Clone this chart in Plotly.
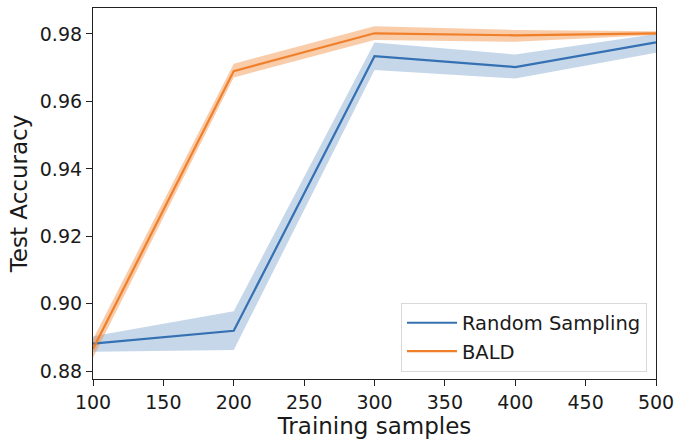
import plotly.graph_objects as go

samples = [100, 200, 300, 400, 500]

random_mean = [0.8882, 0.8920, 0.9734, 0.9702, 0.9775]
random_low = [0.8858, 0.8863, 0.9693, 0.9668, 0.9744]
random_high = [0.8904, 0.8978, 0.9775, 0.9739, 0.9800]

bald_mean = [0.8866, 0.9690, 0.9802, 0.9796, 0.9802]
bald_low = [0.8840, 0.9671, 0.9782, 0.9777, 0.9797]
bald_high = [0.8895, 0.9712, 0.9823, 0.9812, 0.9808]

x_ticks = [100, 150, 200, 250, 300, 350, 400, 450, 500]
y_ticks = [0.88, 0.90, 0.92, 0.94, 0.96, 0.98]

BLUE = "#3470b2"
ORANGE = "#f07f2a"

fig = go.Figure()

def band(x, lo, hi, color):
    fig.add_trace(go.Scatter(
        x=list(x) + list(x)[::-1],
        y=list(hi) + list(lo)[::-1],
        fill="toself", fillcolor=color, line=dict(width=0),
        mode="lines", showlegend=False, hoverinfo="skip"))

band(samples, random_low, random_high, "rgba(52,112,178,0.28)")
band(samples, bald_low, bald_high, "rgba(240,127,42,0.40)")

fig.add_trace(go.Scatter(x=samples, y=random_mean, mode="lines",
                         name="Random Sampling", line=dict(color=BLUE, width=2.2)))
fig.add_trace(go.Scatter(x=samples, y=bald_mean, mode="lines",
                         name="BALD", line=dict(color=ORANGE, width=2.2)))

axis_common = dict(
    showline=True, linecolor="#222222", linewidth=1.2, mirror=True,
    ticks="outside", ticklen=6, tickwidth=1.2, tickcolor="#222222",
    showgrid=False, zeroline=False,
    tickfont=dict(family="DejaVu Sans", size=19, color="#1a1a1a"),
)

fig.update_layout(
    width=681, height=440,
    margin=dict(l=93, r=21, t=7, b=59),
    paper_bgcolor="white", plot_bgcolor="white",
    font=dict(family="DejaVu Sans", color="#1a1a1a"),
    xaxis=dict(range=[100, 500], tickvals=x_ticks,
               title=dict(text="Training samples", font=dict(size=23), standoff=4),
               **axis_common),
    yaxis=dict(range=[0.8777, 0.9877], tickvals=y_ticks, tickformat=".2f",
               title=dict(text="Test Accuracy", font=dict(size=23), standoff=5),
               **axis_common),
    legend=dict(x=0.984, y=0.02, xanchor="right", yanchor="bottom",
                bgcolor="white", bordercolor="#d9d9d9", borderwidth=1,
                itemwidth=50,
                font=dict(family="DejaVu Sans", size=19.5, color="#1a1a1a")),
)

fig.write_html("out.html")
